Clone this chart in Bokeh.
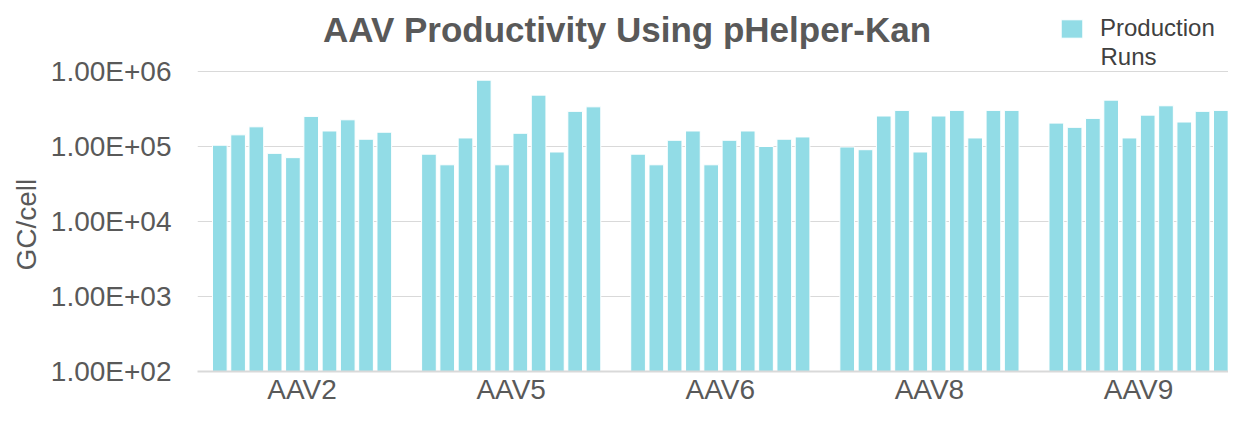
from bokeh.plotting import figure
from bokeh.models import (Range1d, FixedTicker, ColumnDataSource, Legend, LegendItem,
                          CustomJSTickFormatter, Title, Label)
from bokeh.embed import file_html
from bokeh.resources import INLINE

# ---- data ----
groups = ["AAV2", "AAV5", "AAV6", "AAV8", "AAV9"]
aav2 = [1.04e5, 1.43e5, 1.83e5, 8.1e4, 7.1e4, 2.52e5, 1.61e5, 2.27e5, 1.25e5, 1.55e5]
aav5 = [7.9e4, 5.7e4, 1.30e5, 7.66e5, 5.7e4, 1.50e5, 4.84e5, 8.45e4, 2.94e5, 3.38e5]
aav6 = [7.9e4, 5.7e4, 1.21e5, 1.61e5, 5.7e4, 1.21e5, 1.61e5, 1.00e5, 1.25e5, 1.34e5]
aav8 = [9.85e4, 9.06e4, 2.55e5, 3.03e5, 8.45e4, 2.55e5, 3.03e5, 1.30e5, 3.03e5, 3.03e5]
aav9 = [2.05e5, 1.80e5, 2.37e5, 4.15e5, 1.30e5, 2.62e5, 3.49e5, 2.12e5, 2.94e5, 3.03e5]
y_ticks = [1e2, 1e3, 1e4, 1e5, 1e6]
series_label_lines = ["Production", "Runs"]
title_text = "AAV Productivity Using pHelper-Kan"
y_label = "GC/cell"

# ---- layout/style ----
FONT = "Liberation Sans"
GREY = "#595959"
BAR = "#92DCE6"
pitch = 0.0874
bar_w = 0.0702
FRAME_H = 371          # expected frame height in px
DECADE = 75.0          # px per decade
y_end = 10 ** (2 + FRAME_H / DECADE)

series = [aav2, aav5, aav6, aav8, aav9]
xs, tops = [], []
for gi, vals in enumerate(series):
    for ri, v in enumerate(vals):
        xs.append(gi + (ri - 4.5) * pitch)
        tops.append(v)
src = ColumnDataSource(dict(x=xs, top=tops, bottom=[y_ticks[0]] * len(xs)))

p = figure(width=1228, height=407, output_backend="svg", toolbar_location=None,
           title=None,
           y_axis_type="log", x_range=Range1d(-0.5, 4.43),
           y_range=Range1d(y_ticks[0], y_end),
           min_border_left=197, min_border_right=0, min_border_top=0,
           min_border_bottom=30)
p.outline_line_color = None
p.background_fill_color = "white"
p.border_fill_color = "white"

r = p.vbar(x="x", top="top", bottom="bottom", width=bar_w, source=src,
           fill_color=BAR, line_color="white", line_width=1)

# title (inside the frame area, which extends to the top of the canvas)
p.add_layout(Label(x=429.5, y=FRAME_H - 29, x_units="screen", y_units="screen",
                   text=title_text, text_font=FONT, text_font_style="bold",
                   text_font_size="35px", text_color=GREY, text_align="center",
                   text_baseline="middle"))

# y axis label as a left-side title
p.add_layout(Title(text=y_label, text_font=FONT, text_font_size="28px",
                   text_font_style="normal", text_color=GREY, align="left",
                   offset=101, standoff=12), "left")

# x axis
p.xaxis.ticker = FixedTicker(ticks=list(range(len(groups))))
p.xaxis.major_label_overrides = {i: g for i, g in enumerate(groups)}
p.xaxis.major_label_text_font = FONT
p.xaxis.major_label_text_font_size = "28px"
p.xaxis.major_label_text_color = GREY
p.xaxis.major_label_standoff = 2
p.xaxis.axis_label_standoff = 0
p.xaxis.major_tick_out = 0
p.xaxis.major_tick_in = 0
p.xaxis.major_tick_line_color = None
p.xaxis.minor_tick_line_color = None
p.xaxis.axis_line_color = "#D9D9D9"
p.xaxis.axis_line_width = 2
p.xgrid.grid_line_color = None

# y axis
p.yaxis.ticker = FixedTicker(ticks=y_ticks)
p.yaxis.formatter = CustomJSTickFormatter(code="""
const e = Math.round(Math.log10(tick));
const m = tick / Math.pow(10, e);
return m.toFixed(2) + "E+" + (e < 10 ? "0" : "") + e;
""")
p.yaxis.major_label_text_font = FONT
p.yaxis.major_label_text_font_size = "28px"
p.yaxis.major_label_text_color = GREY
p.yaxis.major_label_standoff = 26
p.yaxis.axis_label_standoff = 0
p.yaxis.major_tick_out = 0
p.yaxis.major_tick_in = 0
p.yaxis.major_tick_line_color = None
p.yaxis.minor_tick_line_color = None
p.yaxis.axis_line_color = None
p.ygrid.grid_line_color = "#D9D9D9"
p.ygrid.grid_line_width = 1

# legend (location = bottom-left corner, relative to the frame)
legend = Legend(items=[LegendItem(label=series_label_lines[0], renderers=[r])],
                location=(861, FRAME_H - 42), padding=0, margin=0, spacing=0,
                glyph_width=27, glyph_height=23, label_standoff=15,
                label_text_font=FONT, label_text_font_size="24px",
                label_text_color="#404040", border_line_color=None,
                background_fill_alpha=0)
p.add_layout(legend)
# second line of the legend label
p.add_layout(Label(x=861 + 27 + 15, y=FRAME_H - 56, x_units="screen", y_units="screen",
                   text=series_label_lines[1], text_font=FONT, text_font_size="24px",
                   text_color="#404040", text_align="left", text_baseline="middle"))

open("out.html", "w").write(file_html(p, INLINE))
